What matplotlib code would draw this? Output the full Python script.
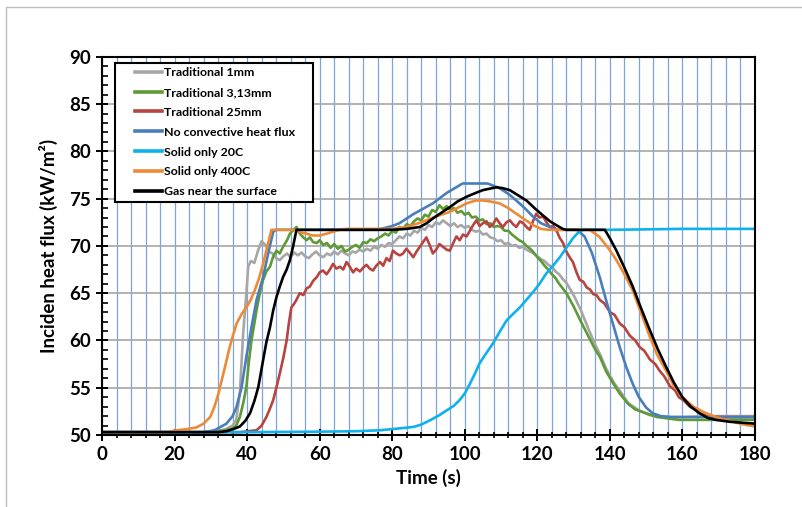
import matplotlib
matplotlib.use("Agg")
import matplotlib.pyplot as plt
from matplotlib.patches import Rectangle
from matplotlib.ticker import MultipleLocator

plt.rcParams['font.family'] = ['Lato', 'DejaVu Sans']

# Traditional 1mm
t_trad1 = [0, 30, 34, 36, 37, 38, 38.9, 39.8, 40.3, 41, 42, 43, 44, 45, 46, 47, 48, 49, 50,
           51, 52, 53, 54, 55, 56, 57, 58, 59, 60, 61, 62, 63, 64, 65, 66, 67, 68, 69, 70,
           71, 72, 73, 74, 75, 76, 77, 78, 79, 80, 81, 82, 83, 84, 85, 86, 87, 88, 89, 90,
           91, 92, 93, 94, 95, 96, 97, 98, 99, 100, 101, 102, 103, 104, 105, 106, 107, 108,
           109, 110, 111, 112, 113, 114, 115, 116, 117, 118, 119, 120, 121, 122, 123, 124,
           125, 126, 127, 128, 130, 132, 134, 136, 137.2, 139, 141, 142.7, 145, 148, 151,
           155, 160, 170, 180]
v_trad1 = [50.3, 50.3, 50.6, 51.0, 51.6, 54.5, 60.7, 65.0, 67.8, 68.4, 68.2, 69.5, 70.5, 70.1,
           69.4, 69.2, 68.7, 68.5, 68.9, 69.2, 68.8, 69.3, 69.0, 69.3, 68.9, 68.7, 69.1, 69.4,
           69.0, 68.8, 69.2, 69.0, 69.4, 69.1, 69.5, 69.2, 69.0, 69.4, 69.3, 69.6, 69.4, 69.7,
           69.5, 69.9, 69.7, 70.1, 69.9, 70.3, 70.2, 70.6, 71.0, 70.8, 71.3, 71.1, 71.6, 71.4,
           71.9, 71.7, 72.2, 72.0, 72.5, 72.3, 72.7, 72.4, 72.1, 72.4, 72.0, 72.2, 71.9, 72.1,
           71.7, 71.5, 71.6, 71.2, 71.3, 70.9, 70.8, 70.5, 70.6, 70.2, 70.3, 70.0, 70.1, 69.8,
           69.9, 69.6, 69.4, 69.2, 68.9, 68.6, 68.4, 68.0, 67.8, 67.3, 67.0, 66.5, 66.1, 64.8,
           63.2, 61.3, 59.5, 58.6, 57.0, 55.6, 54.7, 53.4, 52.6, 52.1, 51.9, 51.9, 52.0, 52.0]

# Traditional 3,13mm
t_trad3 = [0, 30, 34, 36, 37, 38, 39, 39.8, 40.5, 41.2, 42, 42.6, 43.5, 44.4, 45.3, 46.3, 47.2,
           48.1, 49, 49.9, 51, 51.8, 52.5, 53.6, 54.5, 55.5, 56.4, 57.3, 58.2, 59.2, 60, 61,
           62, 63, 64, 65, 66, 67, 68, 69, 70, 71, 72, 73, 74, 75, 76, 77, 78, 79, 80, 81, 82,
           83, 84, 85, 86, 87, 88, 89, 90, 91, 92, 93, 94, 95, 96, 97, 98, 99, 100, 101, 102,
           103, 104, 105, 106, 107, 108, 109, 110, 111, 112, 113, 114, 115, 116, 117, 118,
           119, 120, 121, 122, 123, 124, 125, 126, 127, 128, 130, 132, 134, 136, 137.2, 139,
           141, 142.7, 145, 147, 150, 153, 159, 170, 180]
v_trad3 = [50.3, 50.3, 50.5, 50.7, 51.0, 51.9, 53.5, 55.1, 57.8, 60.0, 61.8, 63.2, 65.0, 66.4,
           67.3, 67.8, 68.9, 69.5, 69.2, 69.9, 70.6, 71.3, 71.6, 72.0, 71.3, 70.9, 70.6, 70.9,
           70.4, 70.3, 70.6, 70.1, 70.3, 69.8, 70.2, 69.7, 70.0, 69.4, 69.6, 69.9, 70.1, 69.8,
           70.4, 70.3, 70.7, 70.5, 70.8, 71.0, 71.3, 71.1, 71.6, 71.4, 72.0, 71.8, 72.3, 72.1,
           72.6, 72.9, 72.7, 73.3, 73.1, 73.8, 73.6, 74.3, 73.9, 74.2, 73.8, 74.0, 73.5, 73.7,
           73.3, 73.5, 73.0, 73.1, 72.7, 72.8, 72.3, 72.4, 72.0, 72.1, 72.0, 71.6, 71.6, 71.2,
           70.9, 70.6, 70.4, 70.0, 69.7, 69.3, 68.8, 68.4, 67.9, 67.5, 67.0, 66.6, 66.0, 65.5,
           65.0, 63.6, 62.0, 60.5, 59.0, 58.3, 56.7, 55.4, 54.4, 53.3, 52.7, 52.3, 51.9, 51.6,
           51.6, 51.6]

# Traditional 25mm
t_trad25 = [0, 38, 42.6, 44, 45.3, 46.2, 47.2, 48, 49, 50, 50.9, 51.5, 52.2, 53, 53.6, 54.5,
            55.5, 56.4, 57.3, 58.2, 59.2, 60, 60.9, 61.9, 62.8, 63.7, 64.6, 65.6, 66.5, 67.4,
            68.3, 69.2, 70.1, 71.1, 72, 72.9, 73.8, 74.7, 75.6, 76.6, 77.5, 78.4, 79.3, 80.2,
            81.1, 82.1, 83, 83.9, 84.8, 85.8, 86.7, 87.6, 88.5, 89.4, 90.3, 91.2, 92.1, 93, 94,
            95, 95.9, 96.8, 97.7, 98.6, 99.5, 100.5, 101.4, 102.3, 103.2, 104.1, 105, 106,
            106.9, 107.8, 108.7, 109.6, 110.5, 111.5, 112.4, 113.3, 114.2, 115.2, 116.1, 117,
            117.9, 118.8, 119.7, 120.6, 121.6, 122.5, 123.4, 124.3, 125.2, 126.1, 127.1, 128,
            128.9, 129.8, 130.8, 131.7, 132.7, 133.6, 134.5, 135.4, 136.3, 137.2, 138.5, 140,
            141.3, 142.7, 144, 145.5, 147, 148.2, 149.5, 151, 152.5, 153.7, 155, 156.5, 158,
            159, 160.5, 162, 163.5, 164.7, 167, 170, 175, 180]
v_trad25 = [50.3, 50.3, 50.5, 51.0, 51.9, 52.7, 53.7, 54.9, 56.5, 58.2, 60.0, 61.8, 63.5, 63.9,
            64.3, 65.0, 64.8, 65.5, 65.7, 66.3, 66.7, 67.2, 67.4, 67.0, 67.5, 68.1, 67.6, 67.8,
            67.5, 68.3, 67.8, 67.2, 67.6, 67.3, 67.7, 68.0, 67.6, 67.4, 67.9, 68.3, 67.9, 68.7,
            68.4, 69.5, 69.2, 69.0, 69.2, 69.7, 69.3, 68.8, 69.4, 69.9, 70.4, 70.9, 70.1, 69.2,
            69.6, 70.2, 69.9, 69.6, 69.5, 70.3, 71.0, 70.6, 71.2, 71.0, 71.6, 72.2, 72.7, 72.1,
            72.4, 72.6, 72.0, 72.3, 72.9, 72.4, 72.0, 72.5, 72.7, 72.3, 72.0, 72.6, 72.4, 72.0,
            71.7, 72.6, 73.4, 73.0, 73.1, 72.5, 72.0, 72.1, 71.7, 70.9, 70.3, 69.4, 68.8, 68.3,
            67.2, 66.4, 66.2, 65.6, 65.4, 64.9, 64.8, 64.3, 63.9, 63.0, 62.7, 61.8, 61.4, 60.5,
            60.0, 59.3, 58.9, 58.0, 57.5, 56.8, 56.2, 55.2, 54.7, 54.0, 53.6, 53.0, 52.7, 52.3,
            52.0, 51.9, 51.9, 51.9]

# No convective heat flux
t_noconv = [0, 28, 31, 34.3, 36, 37.1, 38.5, 39.8, 41.2, 42.6, 44.4, 45.8, 47.2, 48, 76, 80, 82,
            86, 91.2, 95, 99.4, 106.3, 109.6, 112, 114.2, 116.5, 118.8, 121, 123.4, 125, 131,
            133, 135, 137.2, 139, 140.8, 142.7, 144.5, 146.3, 148, 150, 151.8, 154, 157, 180]
v_noconv = [50.3, 50.3, 50.5, 51.2, 52.0, 53.0, 55.1, 58.3, 61.4, 64.3, 66.7, 69.2, 71.5, 71.7,
            71.7, 72.1, 72.4, 73.4, 74.5, 75.6, 76.6, 76.6, 76.1, 75.5, 74.8, 74.0, 73.1, 72.4,
            72.0, 71.7, 71.7, 71.0, 69.3, 66.7, 64.2, 61.8, 59.3, 57.2, 55.4, 54.0, 52.9, 52.3,
            52.0, 51.9, 51.9]

# Solid only 20C
t_solid20 = [0, 40, 60, 70, 76.6, 82, 85.8, 88, 90.4, 93, 95, 97, 98.6, 100, 101.4, 102.8, 104.1,
             106, 107.8, 109.6, 111.5, 113.3, 115.2, 117, 118.8, 120.6, 122.5, 124.3, 126.2,
             128, 129.8, 131.7, 133, 140, 160, 180]
v_solid20 = [50.3, 50.3, 50.35, 50.4, 50.5, 50.7, 50.85, 51.1, 51.55, 52.1, 52.6, 53.1, 53.7,
             54.4, 55.4, 56.5, 57.6, 58.7, 59.7, 60.9, 62.1, 62.8, 63.5, 64.3, 65.1, 66.0, 67.1,
             67.9, 68.8, 69.8, 70.8, 71.6, 71.7, 71.7, 71.8, 71.8]

# Solid only 400C
t_solid400 = [0, 18, 20.5, 23, 26, 28, 29.8, 31, 32.1, 33, 33.9, 35, 35.7, 37.1, 38.5, 39.8, 41,
              42.1, 43.3, 44.4, 45.6, 46.7, 53.2, 55, 56.4, 58, 60, 62, 63.7, 65.5, 67.4, 80,
              84, 88, 92, 95.9, 100.5, 103, 105, 107, 109.6, 112, 114.2, 116.5, 118.8, 121, 123,
              134.4, 137, 139.5, 141.8, 144, 146.3, 148.5, 151, 153, 155.5, 157.5, 160, 163,
              166.5, 170, 173.9, 177, 180]
v_solid400 = [50.3, 50.3, 50.5, 50.6, 50.8, 51.2, 51.9, 53.0, 54.4, 55.8, 57.2, 59.0, 60.0, 61.8,
              62.8, 63.5, 64.3, 65.3, 66.6, 68.1, 70.0, 71.7, 71.7, 71.4, 71.3, 71.1, 71.1, 71.3,
              71.5, 71.7, 71.8, 71.8, 72.0, 72.5, 73.1, 73.6, 74.5, 74.8, 74.8, 74.7, 74.5, 74.0,
              73.4, 72.8, 72.2, 71.8, 71.7, 71.7, 71.0, 69.8, 68.5, 67.0, 65.3, 63.0, 60.4, 58.5,
              56.8, 55.3, 54.0, 53.0, 52.3, 51.8, 51.4, 51.1, 50.9]

# Gas near the surface
t_gas = [0, 32, 34.3, 36, 38, 39.5, 40.8, 42, 43.1, 44.4, 45.3, 46.3, 47.2, 48.1, 49, 49.9, 50.9,
         51.8, 52.7, 53.6, 80, 84, 87.6, 89.5, 91.2, 93.5, 95.9, 98, 100.5, 103, 105, 108.7,
         110.5, 112.4, 114.5, 117, 119.5, 121.6, 123.5, 125.2, 127, 128, 138.6, 140, 141.8, 144,
         146.3, 148.6, 151, 153.3, 155.5, 157.7, 160, 162.3, 164.7, 167, 169.3, 173, 180]
v_gas = [50.3, 50.3, 50.4, 50.6, 50.9, 51.5, 52.3, 53.6, 55.1, 57.9, 59.8, 61.4, 63.2, 64.6, 65.7,
         66.7, 67.5, 68.5, 70.0, 71.7, 71.7, 71.8, 72.0, 72.4, 72.9, 73.5, 74.1, 74.7, 75.2,
         75.6, 75.9, 76.2, 76.1, 75.9, 75.4, 74.8, 73.9, 73.2, 72.6, 72.2, 71.8, 71.7, 71.7,
         70.8, 69.5, 67.7, 65.7, 63.4, 61.1, 59.0, 57.2, 55.5, 54.0, 53.0, 52.3, 51.8, 51.6,
         51.4, 51.2]

series = [
    ('Traditional 1mm', t_trad1, v_trad1, '#a6a6a6'),
    ('Traditional 3,13mm', t_trad3, v_trad3, '#5e9a36'),
    ('Traditional 25mm', t_trad25, v_trad25, '#b8443f'),
    ('No convective heat flux', t_noconv, v_noconv, '#4a7ebb'),
    ('Solid only 20C', t_solid20, v_solid20, '#0fb0ee'),
    ('Solid only 400C', t_solid400, v_solid400, '#ee8a35'),
    ('Gas near the surface', t_gas, v_gas, '#000000'),
]

fig = plt.figure(figsize=(8.02, 5.07), dpi=100)
ax = fig.add_axes([0.1272, 0.142, 0.8142, 0.746])

for name, t, v, c in series:
    ax.plot(t, v, color=c, lw=1.9, label=name)

ax.set_xlim(0, 180)
ax.set_ylim(50, 90)
ax.xaxis.set_major_locator(MultipleLocator(20))
ax.xaxis.set_minor_locator(MultipleLocator(4))
ax.yaxis.set_major_locator(MultipleLocator(5))
ax.yaxis.set_minor_locator(MultipleLocator(1))

ax.grid(axis='x', which='both', color='#7ba4d8', lw=0.9)
ax.grid(axis='y', which='major', color='#a6a6a6', lw=1.2)
ax.set_axisbelow(True)

ax.tick_params(which='major', direction='inout', length=9, width=1.4, labelsize=13.5)
ax.tick_params(axis='y', which='minor', direction='in', length=4.5, width=1.2)
ax.tick_params(axis='x', which='minor', direction='inout', length=5, width=1.2)
for lab in ax.get_xticklabels() + ax.get_yticklabels():
    lab.set_fontweight('bold')

for s in ax.spines.values():
    s.set_linewidth(1.5)
    s.set_color('black')

ax.set_xlabel('Time (s)', fontsize=13.5, fontweight='bold', labelpad=4)
ax.set_ylabel('Inciden heat flux (kW/m²)', fontsize=13.5, fontweight='bold', labelpad=8)

# legend box drawn separately so the side margins can be wider than the top one
ax.add_patch(Rectangle((0.0199, 0.616), 0.303, 0.367, transform=ax.transAxes,
                       facecolor='white', edgecolor='black', lw=1.5, zorder=4))
leg = ax.legend(loc='upper left', bbox_to_anchor=(0.05, 0.973), frameon=False,
                prop={'weight': 'bold', 'size': 8.9}, handlelength=2.2,
                handletextpad=0.2, labelspacing=0.72, borderpad=0, borderaxespad=0)
leg.set_zorder(5)
for line in leg.get_lines():
    line.set_linewidth(2.6)

fig.patches.append(Rectangle((6 / 802, -0.5), 2, 0.5 + 500 / 507, transform=fig.transFigure,
                             fill=False, edgecolor='#bfbfbf', lw=1))

fig.savefig('out.png', dpi=100)
